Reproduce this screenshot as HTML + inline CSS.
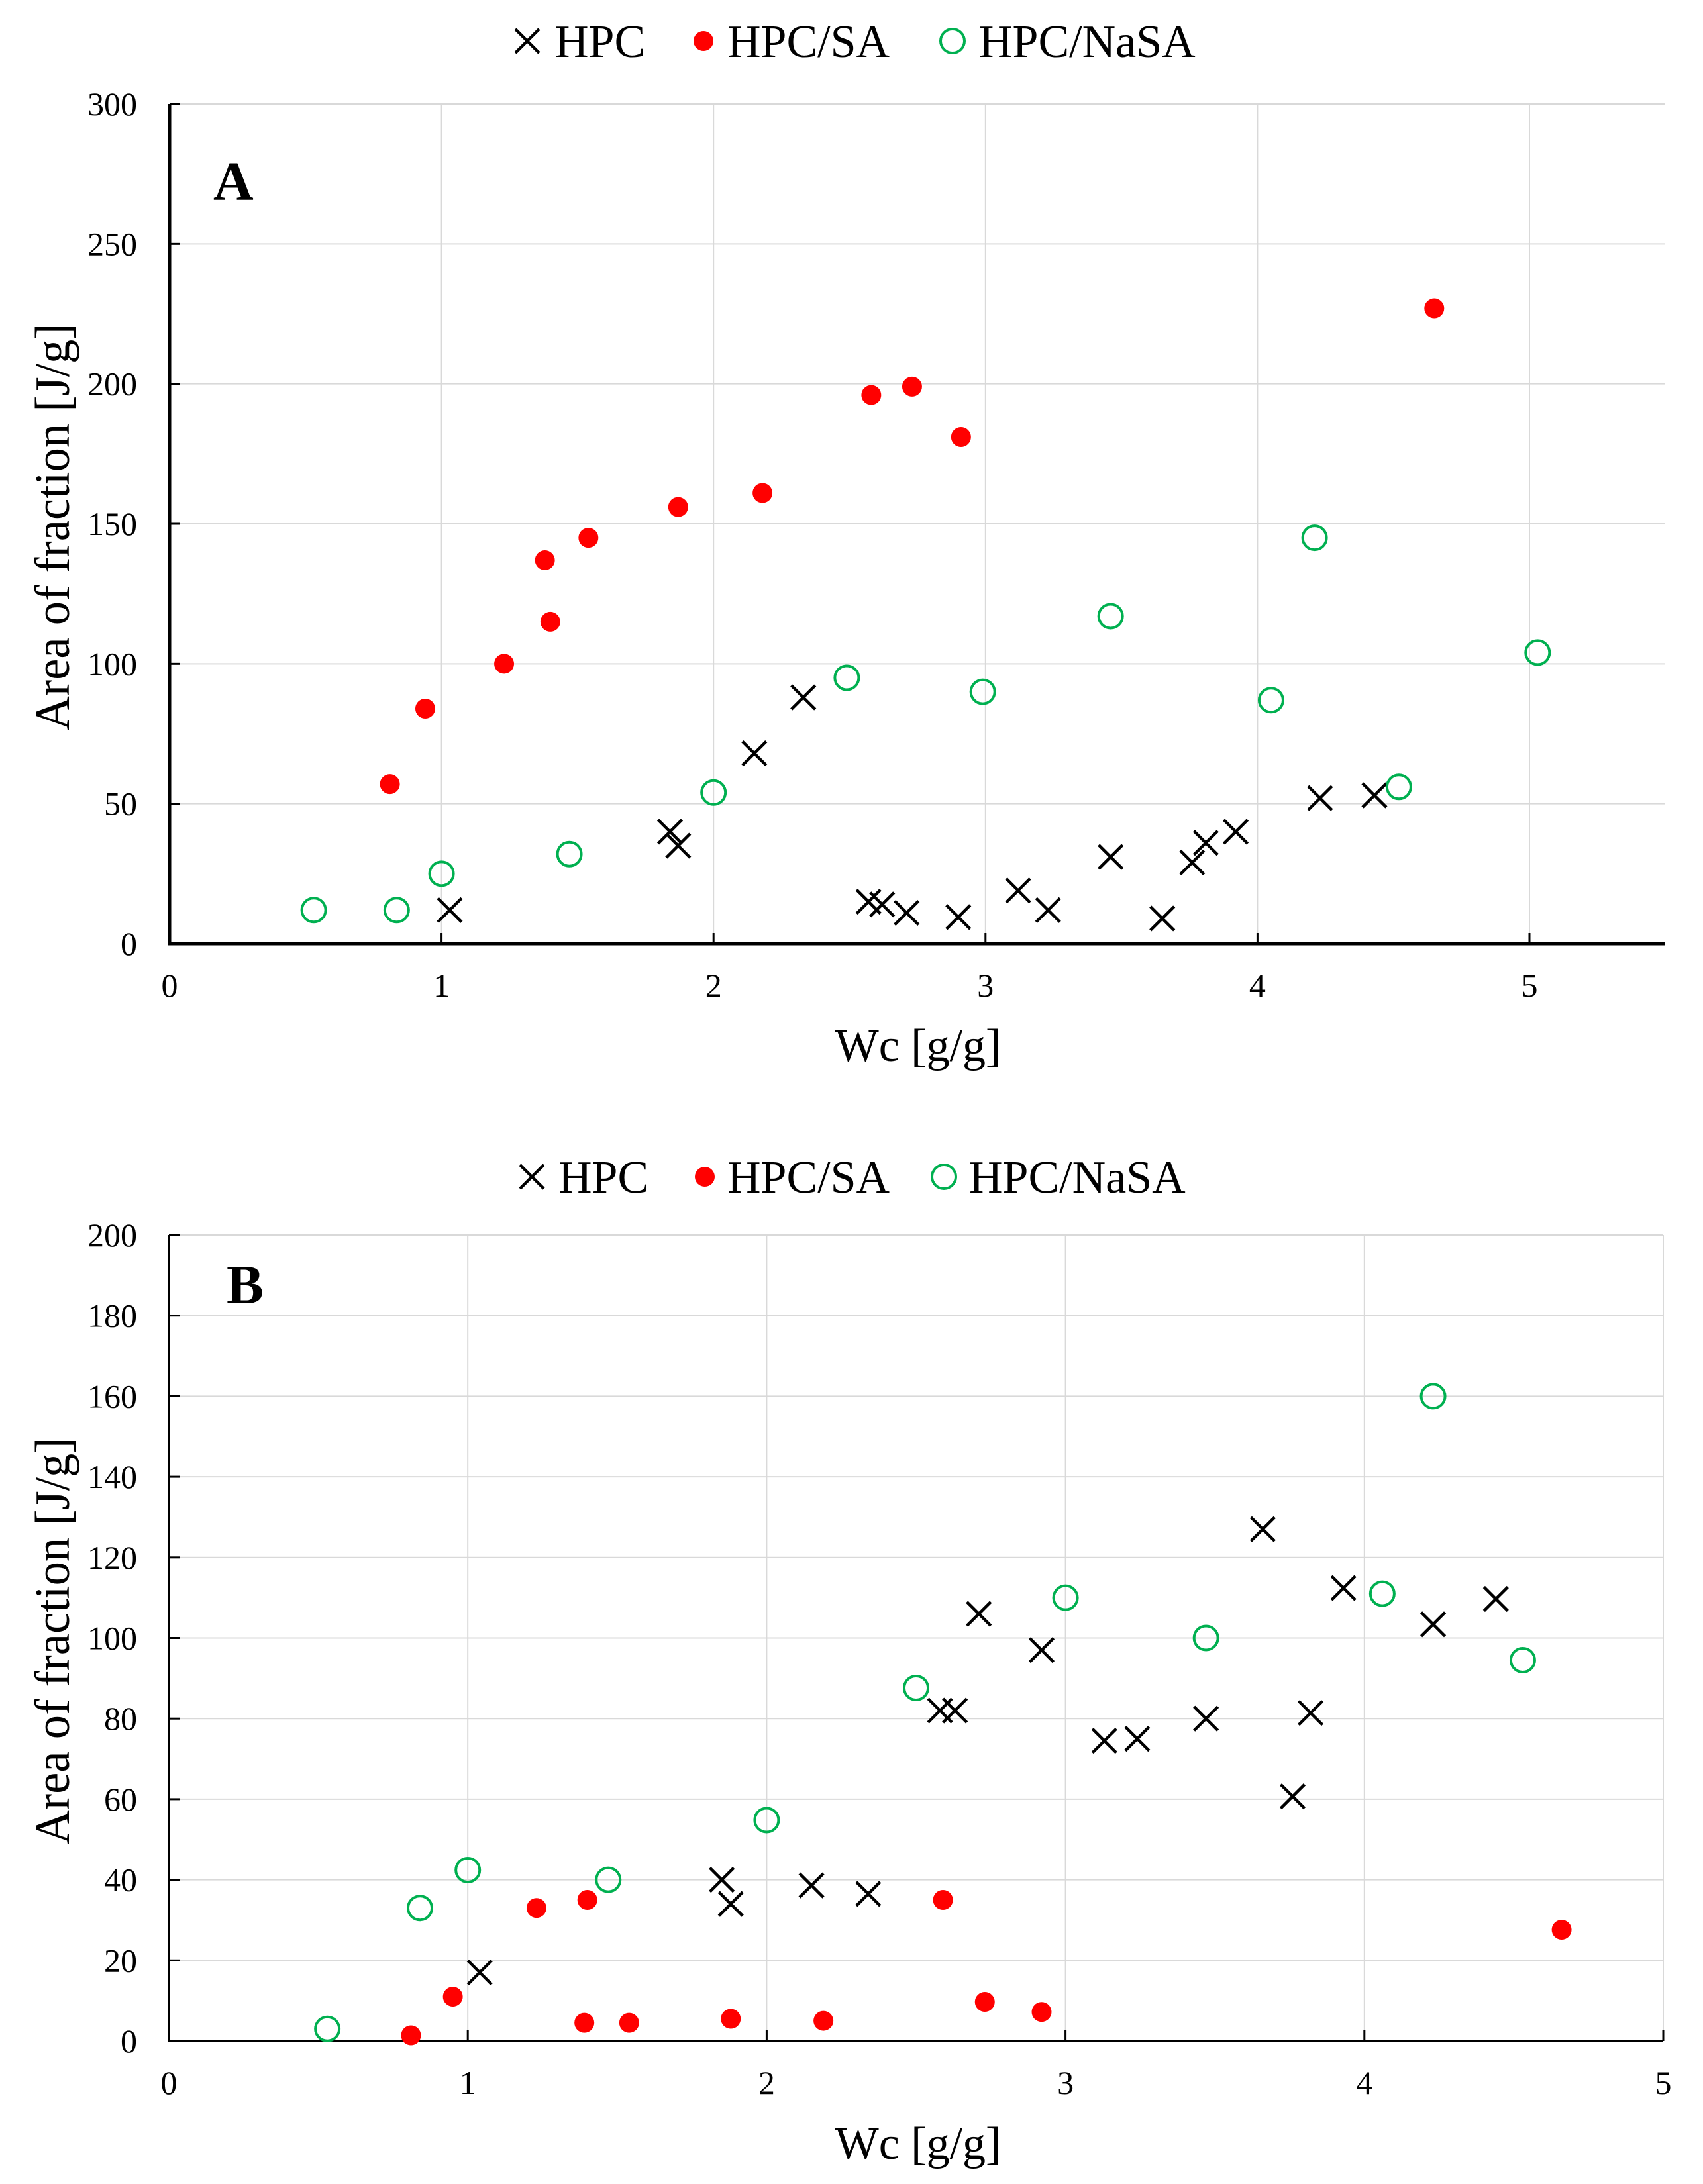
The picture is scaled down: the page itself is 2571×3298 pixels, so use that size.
<!DOCTYPE html>
<html><head><meta charset="utf-8"><style>
html,body{margin:0;padding:0;background:#fff;}
svg{display:block;}
text{font-family:"Liberation Serif",serif;fill:#000;}
</style></head><body>
<svg id="chart" width="2571" height="3298" viewBox="0 0 2571 3298" xmlns="http://www.w3.org/2000/svg"></svg>
<script>
// ---- Chart A data ----
const aHpcX = [1.03,1.84,1.87,2.15,2.33,2.57,2.62,2.71,2.90,3.12,3.23,3.46,3.65,3.76,3.81,3.92,4.23,4.43];
const aHpcY = [12,40,35,68,88,15,14,11,9.5,19,12,31,9,29,36,40,52,53];
const aSaX = [0.81,0.94,1.23,1.38,1.40,1.54,1.87,2.18,2.58,2.73,2.91,4.65];
const aSaY = [57,84,100,137,115,145,156,161,196,199,181,227];
const aNaX = [0.53,0.835,1.0,1.47,2.0,2.49,2.99,3.46,4.05,4.21,4.52,5.03];
const aNaY = [12,12,25,32,54,95,90,117,87,145,56,104];
const aYTicks = [0,50,100,150,200,250,300];
const aXTicks = [0,1,2,3,4,5];
// ---- Chart B data ----
const bHpcX = [1.04,1.85,1.88,2.15,2.34,2.58,2.63,2.71,2.92,3.13,3.24,3.47,3.66,3.76,3.82,3.93,4.23,4.44];
const bHpcY = [17,40,34,38.6,36.5,82,82,106,97,74.5,75,80,127,60.7,81.4,112.4,103.4,109.7];
const bSaX = [0.81,0.95,1.23,1.40,1.39,1.54,1.88,2.19,2.59,2.73,2.92,4.66];
const bSaY = [1.4,11,33,35,4.5,4.5,5.5,5,35,9.7,7.2,27.6];
const bNaX = [0.53,0.84,1.0,1.47,2.0,2.5,3.0,3.47,4.06,4.23,4.53];
const bNaY = [3,33,42.4,40,54.8,87.6,110,100,111,160,94.5];
const bYTicks = [0,20,40,60,80,100,120,140,160,180,200];
const bXTicks = [0,1,2,3,4,5];

const svg = document.getElementById('chart');
const NS = 'http://www.w3.org/2000/svg';
function mk(tag, attrs, parent){
  const e = document.createElementNS(NS, tag);
  for (const k in attrs) e.setAttribute(k, attrs[k]);
  (parent||svg).appendChild(e);
  return e;
}
function drawX(g, cx, cy){
  const s = 18;
  const p = mk('path', {d:`M${cx-s},${cy-s}L${cx+s},${cy+s}M${cx-s},${cy+s}L${cx+s},${cy-s}`, stroke:'#000','stroke-width':4.5,fill:'none'}, g);
  return p;
}
function drawDot(g, cx, cy){
  return mk('circle', {cx, cy, r:15, fill:'#ff0000'}, g);
}
function drawRing(g, cx, cy){
  return mk('circle', {cx, cy, r:18, fill:'none', stroke:'#00b050','stroke-width':4}, g);
}
function legend(y, pos, name){
  const g = mk('g', {});
  
  
  const items = [['HPC',drawX],['HPC/SA',drawDot],['HPC/NaSA',drawRing]];
  items.forEach((it, i) => {
    const e = mk('g', {}, g);
    
    
    it[1](e, pos[i][0], y);
    const t = mk('text', {x:pos[i][1], y:y+24, 'font-size':70}, e);
    t.textContent = it[0];
  });
}
function chart(o){
  const g = mk('g', {});
  
  
  const sx = v => o.x0 + v * o.ux;
  const sy = v => o.y0 - (v / o.ymax) * (o.y0 - o.ytop);
  // gridlines
  o.yTicks.forEach(v => {
    if (v === 0) return;
    const l = mk('line', {x1:o.x0, x2:o.xr, y1:sy(v), y2:sy(v), stroke:'#d9d9d9','stroke-width':2}, g);
    
    
  });
  o.xTicks.forEach(v => {
    if (v === 0) return;
    const l = mk('line', {x1:sx(v), x2:sx(v), y1:o.ytop, y2:o.y0, stroke:'#d9d9d9','stroke-width':2}, g);
    
    
  });
  // axes
  const ya = mk('line', {x1:o.x0, x2:o.x0, y1:o.ytop, y2:o.y0, stroke:'#000','stroke-width':o.aw}, g);
  
  
  const xa = mk('line', {x1:o.x0-2, x2:o.xr, y1:o.y0, y2:o.y0, stroke:'#000','stroke-width':o.aw}, g);
  
  
  o.yTicks.forEach(v => {
    mk('line', {x1:o.x0, x2:o.x0+16, y1:sy(v), y2:sy(v), stroke:'#000','stroke-width':3}, g);
    const t = mk('text', {x:207, y:sy(v)+17, 'text-anchor':'end','font-size':50}, g);
    
    
    t.textContent = v;
  });
  o.xTicks.forEach(v => {
    mk('line', {x1:sx(v), x2:sx(v), y1:o.y0, y2:o.y0-16, stroke:'#000','stroke-width':3}, g);
    const t = mk('text', {x:sx(v), y:o.y0+80, 'text-anchor':'middle','font-size':50}, g);
    
    
    t.textContent = v;
  });
  // titles
  const xt = mk('text', {x:1386, y:o.xTitleY, 'text-anchor':'middle','font-size':70}, g);
  
  
  xt.textContent = 'Wc [g/g]';
  const yt = mk('text', {x:0, y:0, 'text-anchor':'middle','font-size':74, textLength:615, lengthAdjust:'spacingAndGlyphs', transform:`translate(104,${o.yTitleC}) rotate(-90)`}, g);
  
  
  yt.textContent = 'Area of fraction [J/g]';
  const pl = mk('text', {x:o.lx, y:o.ly, 'font-size':84,'font-weight':'bold'}, g);
  
  
  pl.textContent = o.label;
  // series
  const s1 = mk('g', {}, g);
  
  
  o.hx.forEach((v, i) => { const m = drawX(s1, sx(v), sy(o.hy[i]));   });
  const s2 = mk('g', {}, g);
  
  
  o.sx_.forEach((v, i) => { const m = drawDot(s2, sx(v), sy(o.sy_[i]));   });
  const s3 = mk('g', {}, g);
  
  
  o.nx.forEach((v, i) => { const m = drawRing(s3, sx(v), sy(o.ny[i]));   });
}
legend(62, [[796,838],[1062,1098],[1438,1478]], 'legend-a');
chart({name:'chart-a', x0:256, ux:410.6, xr:2514, y0:1425, ytop:157, ymax:300, aw:5,
  yTicks:aYTicks, xTicks:aXTicks, xTitleY:1602, yTitleC:796, label:'A', lx:322, ly:302,
  hx:aHpcX, hy:aHpcY, sx_:aSaX, sy_:aSaY, nx:aNaX, ny:aNaY});
legend(1777, [[803,843],[1064,1098],[1425,1463]], 'legend-b');
chart({name:'chart-b', x0:255, ux:451.2, xr:2511, y0:3082, ytop:1865, ymax:200, aw:4,
  yTicks:bYTicks, xTicks:bXTicks, xTitleY:3260, yTitleC:2478, label:'B', lx:342, ly:1968,
  hx:bHpcX, hy:bHpcY, sx_:bSaX, sy_:bSaY, nx:bNaX, ny:bNaY});
</script>
</body></html>
